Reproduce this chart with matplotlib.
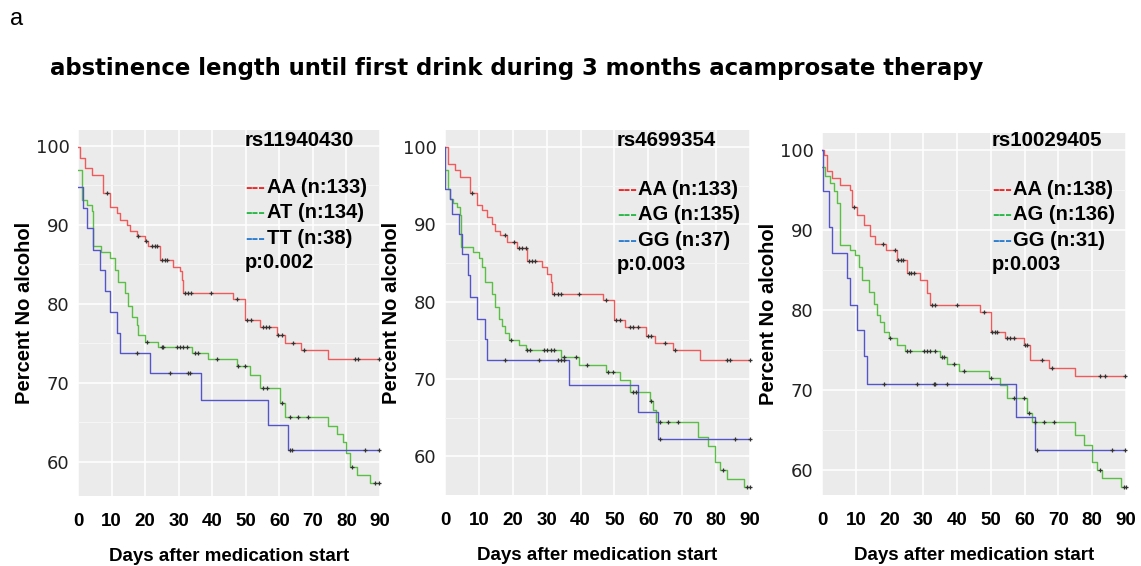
import matplotlib
matplotlib.use('Agg')
import matplotlib.pyplot as plt
import numpy as np

W, H = 1141, 566

# panel 1: rs11940430
p1_aa_t = [0, 0.6, 2.1, 4.1, 7.5, 9.5, 11.5, 12.5, 14.5, 15.5, 17.5, 19.9, 20.9, 24.4, 28.4, 30.4, 30.9, 31.4, 46.3, 49.8, 54.2, 59.2, 61.7, 66.6, 74.6]
p1_aa_s = [99.9, 98.4, 97.2, 96.3, 94.0, 92.3, 91.5, 90.6, 90.0, 89.2, 88.6, 87.9, 87.3, 85.5, 84.7, 84.1, 83.0, 81.4, 80.6, 78.0, 77.1, 76.1, 75.1, 74.2, 73.0]
p1_aa_c = [8.5, 17.8, 20.3, 22.0, 22.8, 23.6, 25.0, 25.8, 26.6, 32.0, 32.8, 33.6, 39.5, 47.5, 50.5, 51.5, 55.0, 56.0, 57.0, 59.7, 60.7, 64.2, 67.4, 82.5, 83.5, 89.7]

p1_at_t = [0, 1.1, 2.6, 4.1, 4.6, 7.0, 9.5, 11.0, 12.0, 14.0, 15.0, 16.0, 17.5, 18.0, 19.9, 23.9, 33.9, 38.8, 47.3, 51.2, 54.2, 60.2, 61.7, 74.6, 77.1, 79.0, 80.0, 81.2, 83.0, 87.0]
p1_at_s = [97.0, 93.2, 92.5, 91.7, 87.3, 86.6, 85.8, 84.3, 82.8, 81.4, 79.7, 78.4, 77.3, 76.1, 75.2, 74.6, 73.8, 73.0, 72.1, 71.0, 69.3, 67.5, 65.7, 64.6, 63.6, 62.5, 61.2, 59.4, 58.3, 57.3]
p1_at_c = [20.5, 24.9, 25.4, 29.4, 30.4, 31.4, 32.4, 34.9, 35.8, 41.5, 47.8, 49.8, 55.2, 56.2, 60.7, 63.2, 65.6, 68.6, 81.7, 88.5, 89.7]

p1_tt_t = [0, 1.6, 2.6, 4.6, 6.5, 8.0, 9.5, 11.5, 12.5, 21.4, 36.8, 56.7, 62.7]
p1_tt_s = [94.8, 92.1, 89.6, 86.8, 84.3, 81.6, 79.0, 76.3, 73.8, 71.2, 67.8, 64.7, 61.5]
p1_tt_c = [17.5, 27.4, 32.9, 33.4, 63.2, 63.7, 85.5, 89.7]

# panel 2: rs4699354
p2_aa_t = [0, 1.0, 3.0, 4.5, 7.4, 9.4, 10.9, 12.4, 13.9, 14.9, 16.3, 18.3, 21.3, 24.3, 28.7, 30.2, 31.2, 31.7, 46.5, 50.0, 53.0, 59.4, 61.9, 67.3, 75.2]
p2_aa_s = [100.0, 97.8, 97.0, 96.1, 94.0, 92.5, 91.9, 90.9, 90.1, 89.2, 88.6, 87.7, 87.0, 85.3, 84.5, 83.6, 82.5, 81.0, 80.2, 77.6, 76.7, 75.6, 74.7, 73.7, 72.4]
p2_aa_c = [7.9, 17.6, 20.3, 21.8, 22.8, 23.8, 24.8, 25.7, 26.7, 32.2, 33.2, 34.2, 39.6, 47.5, 50.5, 51.5, 54.5, 55.4, 56.9, 59.9, 60.9, 64.9, 67.8, 83.2, 84.0, 89.9]

p2_ag_t = [0, 1.0, 1.5, 2.5, 3.5, 4.5, 4.8, 8.4, 9.9, 10.9, 11.9, 13.9, 14.9, 15.8, 16.8, 17.8, 18.8, 21.8, 23.8, 34.2, 39.6, 47.5, 51.5, 54.5, 60.4, 61.4, 62.4, 74.8, 77.7, 79.7, 81.2, 83.2, 88.1]
p2_ag_s = [97.0, 94.6, 93.3, 92.7, 92.2, 91.2, 87.1, 86.4, 85.6, 84.5, 82.5, 81.0, 79.3, 77.8, 76.9, 75.9, 75.0, 74.4, 73.7, 72.8, 71.8, 70.9, 69.9, 68.3, 67.2, 66.0, 64.4, 62.5, 61.4, 59.3, 58.2, 57.1, 56.0]
p2_ag_c = [19.6, 24.3, 25.2, 29.2, 30.2, 31.2, 32.2, 35.0, 38.6, 41.8, 48.0, 49.5, 55.4, 56.4, 60.9, 63.4, 65.8, 68.8, 82.0, 89.1, 89.9]

p2_gg_t = [0, 0.1, 1.5, 2.0, 4.0, 5.0, 6.9, 7.4, 9.4, 11.7, 12.4, 36.6, 56.9, 62.9]
p2_gg_s = [100.0, 94.6, 93.3, 91.4, 88.8, 86.2, 83.4, 80.6, 77.8, 75.2, 72.4, 69.2, 65.7, 62.3]
p2_gg_c = [17.6, 27.7, 33.2, 34.2, 35.1, 63.4, 85.6, 89.9]

# panel 3: rs10029405
p3_aa_t = [0, 0.5, 1.5, 3.0, 5.4, 8.4, 8.9, 10.4, 12.3, 14.3, 15.8, 18.8, 22.2, 25.2, 29.1, 31.1, 32.1, 46.9, 49.9, 54.3, 59.7, 61.7, 67.1, 75.0]
p3_aa_s = [100.0, 99.4, 97.3, 96.5, 95.6, 95.0, 92.8, 91.9, 90.6, 89.2, 88.3, 87.5, 86.2, 84.6, 83.8, 82.1, 80.6, 79.8, 77.3, 76.5, 75.6, 73.8, 72.7, 71.7]
p3_aa_c = [9.4, 18.1, 21.7, 22.6, 23.3, 24.1, 25.7, 26.4, 27.1, 32.6, 33.6, 40.0, 47.9, 50.3, 51.1, 51.8, 54.8, 55.8, 56.8, 60.2, 60.7, 65.2, 68.1, 82.4, 83.9, 89.8]

p3_ag_t = [0, 1.0, 2.5, 3.5, 4.5, 5.4, 8.4, 9.9, 10.9, 11.8, 13.8, 15.3, 16.3, 17.3, 18.3, 19.7, 22.2, 24.7, 35.0, 37.0, 40.5, 49.4, 52.8, 54.8, 60.7, 62.2, 75.0, 77.5, 80.0, 81.5, 82.9, 88.4]
p3_ag_s = [97.9, 96.7, 95.8, 94.8, 93.3, 88.1, 87.5, 86.9, 85.4, 83.8, 82.3, 80.8, 79.4, 78.5, 77.3, 76.5, 75.6, 74.9, 74.1, 73.3, 72.4, 71.5, 70.6, 69.0, 67.1, 66.0, 64.4, 63.1, 61.0, 60.0, 59.0, 57.9]
p3_ag_c = [20.0, 25.2, 26.2, 30.1, 31.1, 32.1, 33.6, 35.5, 36.0, 39.0, 42.0, 49.9, 56.8, 59.7, 61.2, 63.2, 65.6, 68.6, 82.2, 89.3, 89.9]

p3_gg_t = [0, 0.3, 2.0, 3.0, 7.4, 8.4, 10.4, 12.3, 13.3, 57.3, 63.2]
p3_gg_s = [100.0, 94.8, 90.4, 87.1, 84.0, 80.6, 77.5, 74.2, 70.8, 66.7, 62.5]
p3_gg_c = [18.3, 28.1, 33.1, 33.6, 37.0, 63.7, 85.9, 89.8]

snps = ['rs11940430', 'rs4699354', 'rs10029405']
labels = [['AA (n:133)', 'AT (n:134)', 'TT (n:38)'],
          ['AA (n:133)', 'AG (n:135)', 'GG (n:37)'],
          ['AA (n:138)', 'AG (n:136)', 'GG (n:31)']]
pvals = ['p:0.002', 'p:0.003', 'p:0.003']
x_ticks = [0, 10, 20, 30, 40, 50, 60, 70, 80, 90]
y_ticks = [60, 70, 80, 90, 100]

series = [
    [(p1_aa_t, p1_aa_s, p1_aa_c), (p1_at_t, p1_at_s, p1_at_c), (p1_tt_t, p1_tt_s, p1_tt_c)],
    [(p2_aa_t, p2_aa_s, p2_aa_c), (p2_ag_t, p2_ag_s, p2_ag_c), (p2_gg_t, p2_gg_s, p2_gg_c)],
    [(p3_aa_t, p3_aa_s, p3_aa_c), (p3_ag_t, p3_ag_s, p3_ag_c), (p3_gg_t, p3_gg_s, p3_gg_c)],
]

line_cols = ['#F05A5A', '#5CBF45', '#5555C8']
dash_cols = ['#F02828', '#2DB84A', '#2F7FD0']

# axes boxes in pixels: left, top, right, bottom
boxes = [(78, 130, 380, 496), (445, 130, 750, 495), (822, 133, 1126, 495)]
ylims = [(55.7, 102.0), (55.0, 102.2), (56.9, 102.1)]
# legend anchor (x of dash, y of snp name, x of text, y of first line) in pixels
leg = [(245, 140, 267, 188), (617, 140, 638, 190), (992, 140, 1013, 190)]
leg_dy = 25

fig = plt.figure(figsize=(W / 100, H / 100), dpi=100)
fig.patch.set_facecolor('white')

bold = dict(family='Liberation Sans', weight='bold', color='black')

fig.text(10 / W, 1 - 19 / H, 'a', family='Liberation Sans', fontsize=17, va='center')
fig.text(50 / W, 1 - 68 / H, 'abstinence length until first drink during 3 months acamprosate therapy',
         fontsize=16.4, va='center', family='DejaVu Sans', weight='bold', color='black')

for k in range(3):
    l, t, r, b = boxes[k]
    ax = fig.add_axes([l / W, 1 - b / H, (r - l) / W, (b - t) / H])
    ax.set_facecolor('#EBEBEB')
    for sp in ax.spines.values():
        sp.set_visible(False)
    ax.set_xlim(0, 90)
    ax.set_ylim(*ylims[k])
    ax.set_xticks(x_ticks)
    ax.set_yticks(y_ticks)
    ax.set_yticks([65, 75, 85, 95], minor=True)
    ax.grid(which='major', color='white', lw=1.1)
    ax.grid(which='minor', axis='y', color='#F6F6F6', lw=0.7)
    ax.set_axisbelow(True)
    ax.tick_params(axis='both', which='both', length=0)
    ax.tick_params(axis='x', pad=12)
    ax.tick_params(axis='y', pad=6)
    for lab in ax.get_xticklabels():
        lab.set_fontfamily('Liberation Sans')
        lab.set_fontweight('bold')
        lab.set_fontsize(13.5)
    for lab in ax.get_yticklabels():
        lab.set_fontfamily('DejaVu Sans')
        lab.set_fontsize(13)
        lab.set_color('#222222')
    ax.set_xlabel('Days after medication start', fontsize=13.5, labelpad=13, **bold)
    ax.set_ylabel('Percent No alcohol', fontsize=14.5, labelpad=1, **bold)

    for j, (tt, ss, cc) in enumerate(series[k]):
        tx = list(tt) + [90]
        sx = list(ss) + [ss[-1]]
        ax.step(tx, sx, where='post', color=line_cols[j], lw=1.0, zorder=3)
        idx = np.searchsorted(tt, cc, side='right') - 1
        cy = np.array(ss)[idx]
        ax.plot(cc, cy, ls='none', marker='+', ms=3.5, mew=0.9, color='#333333', zorder=4, clip_on=False)

    xd, ysnp, xt, y0 = leg[k]
    fig.text(xd / W, 1 - ysnp / H, snps[k], fontsize=14.8, va='center', **bold)
    for j in range(3):
        yy = 1 - (y0 + j * leg_dy) / H
        fig.text(xd / W, yy, '---', fontsize=14.5, va='center', family='Liberation Sans',
                 weight='bold', color=dash_cols[j])
        fig.text(xt / W, yy, labels[k][j], fontsize=14.5, va='center', **bold)
    fig.text(xd / W, 1 - (y0 + 3 * leg_dy) / H, pvals[k], fontsize=14.5, va='center', **bold)

fig.savefig('out.png', dpi=100)
